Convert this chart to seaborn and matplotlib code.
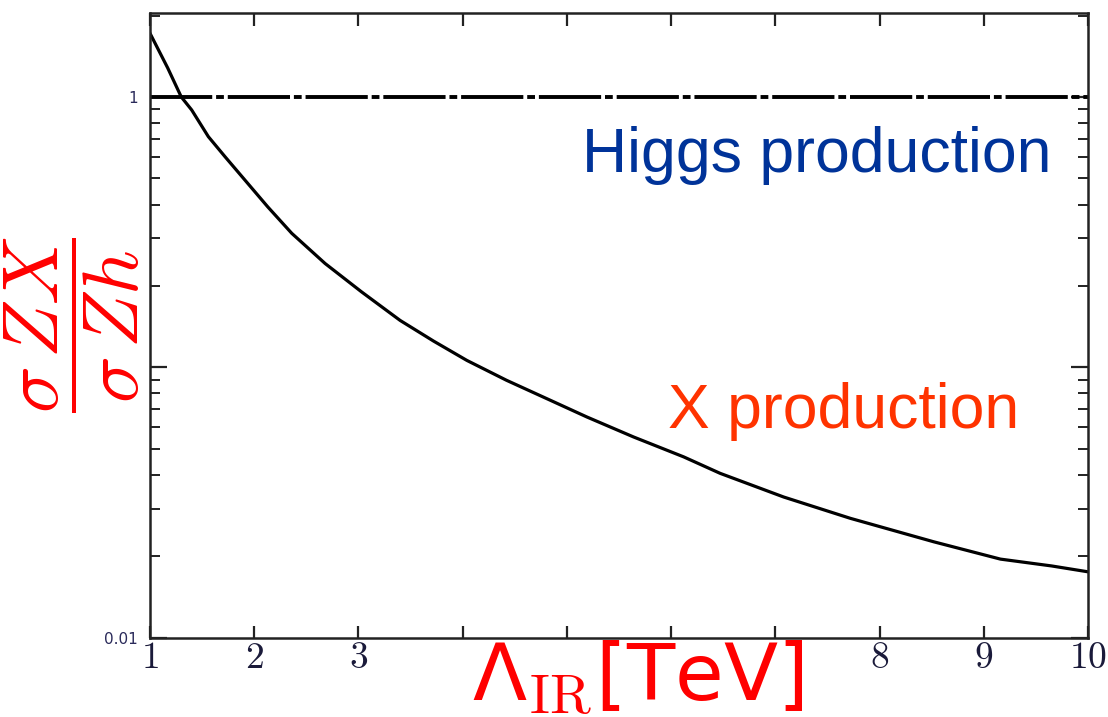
import matplotlib
matplotlib.use("Agg")
import matplotlib.pyplot as plt
import seaborn as sns
import pandas as pd
import numpy as np
from matplotlib.ticker import FixedLocator, LogLocator, NullFormatter

# ---- data ----
lambda_ir = [1.00, 1.17, 1.30, 1.40, 1.56, 1.72, 1.91, 2.13, 2.36, 2.68,
             3.03, 3.40, 3.72, 4.04, 4.42, 4.84, 5.19, 5.64, 6.12, 6.47,
             7.08, 7.72, 8.52, 9.16, 9.65, 10.0]
ratio_x = [1.72, 1.28, 1.00, 0.895, 0.713, 0.601, 0.493, 0.392, 0.313, 0.242,
           0.190, 0.149, 0.125, 0.106, 0.0895, 0.0755, 0.0655, 0.0552, 0.0466, 0.0405,
           0.0331, 0.0276, 0.0226, 0.0195, 0.0184, 0.0175]
higgs_level = 1.0
x_ticks = [1, 2, 3, 4, 5, 6, 7, 8, 9, 10]
x_ticklabels = ["1", "2", "3", "", "", "", "", "8", "9", "10"]
y_ticks = [0.01, 0.1, 1]
y_ticklabels = ["0.01", "", "1"]

sns.set_theme(style="white")
plt.rcParams["font.family"] = ["DejaVu Sans"]
plt.rcParams["mathtext.fontset"] = "cm"

W, H = 1108, 717
fig = plt.figure(figsize=(W / 100, H / 100), dpi=100)
ax = fig.add_axes([150 / W, 1 - 637.5 / H, (1088 - 150) / W, (637.5 - 12.7) / H])

df = pd.DataFrame({"lam": lambda_ir, "ratio": ratio_x})
sns.lineplot(data=df, x="lam", y="ratio", ax=ax, color="black", linewidth=2.3)
ax.axhline(higgs_level, color="black", linewidth=2.8, linestyle=(0, (16, 1, 2, 1)))

ax.set_yscale("log")
ax.set_xlim(1, 10)
ax.set_ylim(0.01, 2.05)
ax.set_xlabel("")
ax.set_ylabel("")

ax.xaxis.set_major_locator(FixedLocator(x_ticks))
ax.set_xticklabels([f"${t}$" if t else "" for t in x_ticklabels])
ax.yaxis.set_major_locator(FixedLocator(y_ticks))
ax.set_yticklabels(y_ticklabels)
ax.yaxis.set_minor_locator(LogLocator(base=10, subs=np.arange(2, 10)))
ax.yaxis.set_minor_formatter(NullFormatter())

for s in ax.spines.values():
    s.set_color("#222222")
    s.set_linewidth(1.8)

ax.tick_params(axis="x", which="major", direction="in", top=True, bottom=True,
               length=9, width=1.6, color="#222222", labelsize=27,
               labelcolor="#1a1a3a", pad=2)
ax.tick_params(axis="y", which="major", direction="in", left=True, right=True,
               length=12, width=1.6, color="#222222", labelsize=11,
               labelcolor="#2a2a5a", pad=9)
ax.tick_params(axis="y", which="minor", direction="in", left=True, right=True,
               length=7, width=1.4, color="#222222")

# annotations
fig.text(582 / W, 1 - 172 / H, "Higgs production", color="#003399",
         fontsize=45, family=["Liberation Sans", "DejaVu Sans"], ha="left",
         va="baseline")
fig.text(668 / W, 1 - 428 / H, "X production", color="#FF3300",
         fontsize=45, family=["Liberation Sans", "DejaVu Sans"], ha="left",
         va="baseline")

# axis labels
fig.text(638 / W, 1 - 678 / H, r"Λ$_{\mathrm{IR}}$[TeV]", color="#FF0000",
         fontsize=57, ha="center", va="center")
fig.text(72 / W, 1 - 324 / H, r"$\dfrac{\sigma\, ZX}{\sigma\, Zh}$",
         color="#FF0000", fontsize=56, rotation=90, ha="center", va="center")

fig.savefig("out.png", dpi=100, facecolor="white")
